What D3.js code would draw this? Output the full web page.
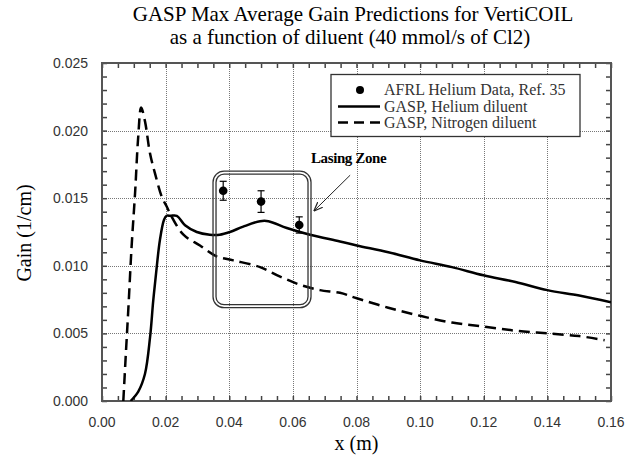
<!DOCTYPE html>
<html>
<head>
<meta charset="utf-8">
<script src="https://cdn.jsdelivr.net/npm/d3@7"></script>
<style>
  body { margin: 0; background: #fff; }
  svg text { font-family: "Liberation Serif", "Times New Roman", serif; }
  .tick-label { font-family: "Liberation Sans", Arial, sans-serif; font-size: 14px; fill: #333; }
</style>
</head>
<body>
<div id="chart"></div>
<script>
//Chart data (x in m, gain in 1/cm)
const heliumX = [0.0090, 0.0114, 0.0135, 0.0151, 0.0161, 0.0172, 0.0182, 0.0195, 0.0203, 0.0215, 0.0235, 0.0261, 0.0298, 0.0339, 0.0370, 0.0402, 0.0444, 0.0497, 0.0523, 0.0581, 0.0654, 0.0748, 0.0801, 0.0900, 0.1000, 0.1100, 0.1199, 0.1300, 0.1400, 0.1500, 0.1600];
const heliumGain = [0.0000, 0.0007, 0.0020, 0.0047, 0.0074, 0.0099, 0.0119, 0.0134, 0.0137, 0.0137, 0.0137, 0.0130, 0.0125, 0.0123, 0.0123, 0.0125, 0.0129, 0.0133, 0.0133, 0.0128, 0.0123, 0.0118, 0.0115, 0.0110, 0.0104, 0.0099, 0.0093, 0.0088, 0.0082, 0.0078, 0.0073];

const nitrogenX = [0.0067, 0.0075, 0.0083, 0.0093, 0.0104, 0.0114, 0.0123, 0.0135, 0.0151, 0.0167, 0.0188, 0.0203, 0.0215, 0.0256, 0.0308, 0.0360, 0.0413, 0.0497, 0.0560, 0.0622, 0.0685, 0.0748, 0.0801, 0.0900, 0.1000, 0.1100, 0.1199, 0.1300, 0.1400, 0.1500, 0.1580];
const nitrogenGain = [0.0000, 0.0035, 0.0069, 0.0114, 0.0154, 0.0196, 0.0217, 0.0207, 0.0183, 0.0168, 0.0151, 0.0144, 0.0138, 0.0123, 0.0115, 0.0107, 0.0104, 0.0099, 0.0092, 0.0086, 0.0082, 0.0080, 0.0076, 0.0069, 0.0063, 0.0058, 0.0055, 0.0052, 0.0050, 0.0048, 0.0045];

const afrlX = [0.0381, 0.0500, 0.0620];
const afrlGain = [0.01555, 0.01475, 0.01302];
const afrlErr = [0.0007, 0.0008, 0.0006];

//Lasing zone box corners (data coords) and arrow
const zoneX = [0.0349, 0.0657];
const zoneGain = [0.0069, 0.0170];
const arrowX = [0.0780, 0.0668];
const arrowGain = [0.0167, 0.0141];

const xTicks = [0, 0.02, 0.04, 0.06, 0.08, 0.10, 0.12, 0.14, 0.16];
const yTicks = [0, 0.005, 0.010, 0.015, 0.020, 0.025];

const legendLabels = ["AFRL Helium Data, Ref. 35", "GASP, Helium diluent", "GASP, Nitrogen diluent"];

//Layout
const w = 637, h = 456;
const plot = { left: 102, right: 611, top: 63, bottom: 401 };

const svg = d3.select("#chart").append("svg")
    .attr("width", w)
    .attr("height", h)
    .style("background-color", "white");

const x = d3.scaleLinear().domain([0, 0.16]).range([plot.left, plot.right]);
const y = d3.scaleLinear().domain([0, 0.025]).range([plot.bottom, plot.top]);

//Title
svg.append("text").attr("x", 353).attr("y", 21).attr("text-anchor", "middle")
    .style("font-size", "21px").text("GASP Max Average Gain Predictions for VertiCOIL");
svg.append("text").attr("x", 350).attr("y", 44).attr("text-anchor", "middle")
    .style("font-size", "21px").text("as a function of diluent (40 mmol/s of Cl2)");

//Grid lines (dotted)
const grid = svg.append("g").attr("stroke", "#777").attr("stroke-width", 1).attr("stroke-dasharray", "1,1");
grid.selectAll(".vg").data(xTicks.slice(1, -1)).enter().append("line")
    .attr("x1", d => Math.round(x(d)) + 0.5).attr("x2", d => Math.round(x(d)) + 0.5)
    .attr("y1", plot.top).attr("y2", plot.bottom);
grid.selectAll(".hg").data(yTicks.slice(1, -1)).enter().append("line")
    .attr("y1", d => Math.round(y(d)) + 0.5).attr("y2", d => Math.round(y(d)) + 0.5)
    .attr("x1", plot.left).attr("x2", plot.right);

//Axes with inward ticks on all four sides
const xMinor = d3.range(0, 0.1601, 0.005);
const yMinor = d3.range(0, 0.02501, 0.001);
svg.append("g").attr("transform", `translate(0,${plot.bottom})`)
    .call(d3.axisTop(x).tickValues(xMinor).tickSize(5).tickFormat(""));
svg.append("g").attr("transform", `translate(0,${plot.top})`)
    .call(d3.axisBottom(x).tickValues(xMinor).tickSize(5).tickFormat(""));
svg.append("g").attr("transform", `translate(${plot.left},0)`)
    .call(d3.axisRight(y).tickValues(yMinor).tickSize(5).tickFormat(""));
svg.append("g").attr("transform", `translate(${plot.right},0)`)
    .call(d3.axisLeft(y).tickValues(yMinor).tickSize(5).tickFormat(""));
svg.selectAll(".domain").remove();
svg.selectAll(".tick line").attr("stroke", "#444").attr("stroke-width", 1.5);

//Frame
svg.append("rect")
    .attr("x", plot.left).attr("y", plot.top)
    .attr("width", plot.right - plot.left).attr("height", plot.bottom - plot.top)
    .attr("fill", "none").attr("stroke", "#555").attr("stroke-width", 2);

//Tick labels
svg.selectAll(".xl").data(xTicks).enter().append("text")
    .attr("class", "tick-label")
    .attr("x", d => x(d)).attr("y", 427).attr("text-anchor", "middle")
    .text(d => d3.format(".2f")(d));
svg.selectAll(".yl").data(yTicks).enter().append("text")
    .attr("class", "tick-label")
    .attr("x", 88).attr("y", d => y(d) + 5).attr("text-anchor", "end")
    .text(d => d3.format(".3f")(d));

//Axis titles
svg.append("text").attr("x", (plot.left + plot.right) / 2).attr("y", 450)
    .attr("text-anchor", "middle").style("font-size", "20px").text("x (m)");
svg.append("text").attr("transform", "translate(31,233) rotate(-90)")
    .attr("text-anchor", "middle").style("font-size", "20px").text("Gain (1/cm)");

//Curves
const clip = svg.append("clipPath").attr("id", "clip").append("rect")
    .attr("x", plot.left).attr("y", plot.top)
    .attr("width", plot.right - plot.left).attr("height", plot.bottom - plot.top);
const line = d3.line().x(d => x(d[0])).y(d => y(d[1])).curve(d3.curveCatmullRom);

svg.append("path")
    .datum(d3.zip(nitrogenX, nitrogenGain))
    .attr("clip-path", "url(#clip)")
    .attr("d", line)
    .attr("fill", "none").attr("stroke", "#000").attr("stroke-width", 2.5)
    .attr("stroke-dasharray", "11,6");

svg.append("path")
    .datum(d3.zip(heliumX, heliumGain))
    .attr("clip-path", "url(#clip)")
    .attr("d", line)
    .attr("fill", "none").attr("stroke", "#000").attr("stroke-width", 2.5);

//Lasing zone box (double rounded outline)
const zx0 = x(zoneX[0]), zx1 = x(zoneX[1]), zy0 = y(zoneGain[1]), zy1 = y(zoneGain[0]);
svg.append("rect").attr("x", zx0).attr("y", zy0).attr("width", zx1 - zx0).attr("height", zy1 - zy0)
    .attr("rx", 11).attr("fill", "none").attr("stroke", "#333").attr("stroke-width", 1.3);
svg.append("rect").attr("x", zx0 + 3).attr("y", zy0 + 3).attr("width", zx1 - zx0 - 6).attr("height", zy1 - zy0 - 6)
    .attr("rx", 8).attr("fill", "none").attr("stroke", "#333").attr("stroke-width", 1.3);

//Arrow
svg.append("defs").append("marker")
    .attr("id", "arrow").attr("viewBox", "0 0 10 10").attr("refX", 9).attr("refY", 5)
    .attr("markerWidth", 9).attr("markerHeight", 9).attr("orient", "auto")
    .append("path").attr("d", "M0,1 L10,5 L0,9").attr("fill", "none").attr("stroke", "#222").attr("stroke-width", 1.4);
svg.append("line")
    .attr("x1", x(arrowX[0])).attr("y1", y(arrowGain[0]))
    .attr("x2", x(arrowX[1])).attr("y2", y(arrowGain[1]))
    .attr("stroke", "#222").attr("stroke-width", 1)
    .attr("marker-end", "url(#arrow)");
svg.append("text").attr("x", 311).attr("y", 163)
    .style("font-size", "15px").style("font-weight", "bold").style("letter-spacing", "-0.4px")
    .text("Lasing Zone");

//AFRL data with error bars
const pts = svg.append("g");
afrlX.forEach((d, i) => {
    const cx = x(d);
    pts.append("line").attr("x1", cx).attr("x2", cx)
        .attr("y1", y(afrlGain[i] + afrlErr[i])).attr("y2", y(afrlGain[i] - afrlErr[i]))
        .attr("stroke", "#000").attr("stroke-width", 1.2);
    [afrlGain[i] + afrlErr[i], afrlGain[i] - afrlErr[i]].forEach(v => {
        pts.append("line").attr("x1", cx - 3.5).attr("x2", cx + 3.5)
            .attr("y1", y(v)).attr("y2", y(v)).attr("stroke", "#000").attr("stroke-width", 1.2);
    });
    pts.append("circle").attr("cx", cx).attr("cy", y(afrlGain[i])).attr("r", 4.3).attr("fill", "#000");
});

//Legend
const lg = svg.append("g");
lg.append("rect").attr("x", 331).attr("y", 74.5).attr("width", 249).attr("height", 62)
    .attr("fill", "white").attr("stroke", "#333").attr("stroke-width", 1.3);
const rowY = [90, 106.5, 122.5];
lg.append("circle").attr("cx", 360).attr("cy", rowY[0]).attr("r", 4).attr("fill", "#000");
lg.append("line").attr("x1", 338).attr("x2", 380).attr("y1", rowY[1]).attr("y2", rowY[1])
    .attr("stroke", "#000").attr("stroke-width", 2.5);
lg.append("line").attr("x1", 338).attr("x2", 382).attr("y1", rowY[2]).attr("y2", rowY[2])
    .attr("stroke", "#000").attr("stroke-width", 2.5).attr("stroke-dasharray", "10,6");
lg.selectAll(".lt").data(legendLabels).enter().append("text")
    .attr("x", 384).attr("y", (d, i) => rowY[i] + 5)
    .style("font-size", "16px").style("fill", "#333")
    .text(d => d);
</script>
</body>
</html>
